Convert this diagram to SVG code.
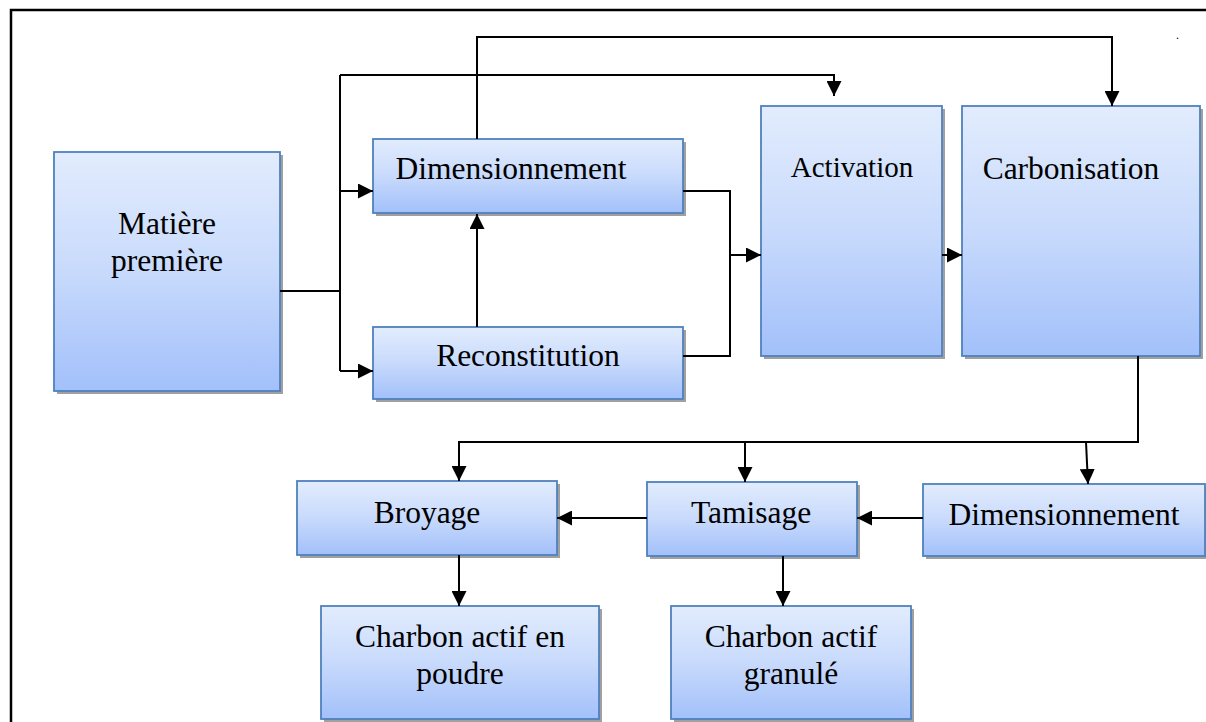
<svg xmlns="http://www.w3.org/2000/svg" width="1206" height="722" viewBox="0 0 1206 722">
<defs>
<linearGradient id="g" x1="0" y1="0" x2="0" y2="1">
<stop offset="0" stop-color="#e2ecfd"/>
<stop offset="0.5" stop-color="#c8dafc"/>
<stop offset="1" stop-color="#a2c0fa"/>
</linearGradient>
<marker id="ah" viewBox="0 0 15 15" refX="15" refY="7.5" markerWidth="15" markerHeight="15" markerUnits="userSpaceOnUse" orient="auto">
<path d="M0,0 L15,7.5 L0,15 z" fill="#000"/>
</marker>
</defs>
<style>
.box{fill:url(#g);stroke:#4f81bd;stroke-width:1.8}
.sh{fill:#a0a0a0}
.t{font-family:"Liberation Serif","Times New Roman",serif;font-size:31.5px;fill:#000;text-anchor:middle}
.c{fill:none;stroke:#000;stroke-width:2}
.a{marker-end:url(#ah)}
</style>
<rect width="1206" height="722" fill="#fff"/>
<path d="M11,722 V10 H1206" fill="none" stroke="#000" stroke-width="2.5"/>
<text x="1176" y="39" style="font-family:'Liberation Serif',serif;font-size:12px">.</text>

<g id="n-matiere">
<rect class="sh" x="57" y="155" width="226" height="239"/>
<rect class="box" x="54" y="152" width="226" height="239"/>
<text class="t" x="167" y="234">Matière</text>
<text class="t" x="167" y="271">première</text>
</g>
<g id="n-dim1">
<rect class="sh" x="376" y="142" width="310" height="74"/>
<rect class="box" x="373" y="139" width="310" height="74"/>
<text class="t" x="511" y="179">Dimensionnement</text>
</g>
<g id="n-recon">
<rect class="sh" x="376" y="330" width="310" height="72"/>
<rect class="box" x="373" y="327" width="310" height="72"/>
<text class="t" x="528" y="366">Reconstitution</text>
</g>
<g id="n-activation">
<rect class="sh" x="764" y="109" width="181" height="250"/>
<rect class="box" x="761" y="106" width="181" height="250"/>
<text class="t" x="852" y="177" style="font-size:29px">Activation</text>
</g>
<g id="n-carbonisation">
<rect class="sh" x="965" y="109" width="238" height="250"/>
<rect class="box" x="962" y="106" width="238" height="250"/>
<text class="t" x="1071" y="179">Carbonisation</text>
</g>
<g id="n-broyage">
<rect class="sh" x="300" y="484" width="260" height="74"/>
<rect class="box" x="297" y="481" width="260" height="74"/>
<text class="t" x="427" y="523">Broyage</text>
</g>
<g id="n-tamisage">
<rect class="sh" x="650" y="485" width="210" height="74"/>
<rect class="box" x="647" y="482" width="210" height="74"/>
<text class="t" x="751" y="523">Tamisage</text>
</g>
<g id="n-dim2">
<rect class="sh" x="926" y="487" width="282" height="72"/>
<rect class="box" x="923" y="484" width="282" height="72"/>
<text class="t" x="1064" y="525">Dimensionnement</text>
</g>
<g id="n-poudre">
<rect class="sh" x="324" y="609" width="278" height="113"/>
<rect class="box" x="321" y="606" width="278" height="113"/>
<text class="t" x="460" y="647">Charbon actif en</text>
<text class="t" x="460" y="684">poudre</text>
</g>
<g id="n-granule">
<rect class="sh" x="674" y="609" width="240" height="113"/>
<rect class="box" x="671" y="606" width="240" height="113"/>
<text class="t" x="791" y="647">Charbon actif</text>
<text class="t" x="791" y="684">granulé</text>
</g>

<g id="connectors">
<path class="c" d="M280,291 H340"/>
<path class="c" d="M340,75 V371"/>
<path class="c a" d="M340,191 H373"/>
<path class="c a" d="M340,371 H373"/>
<path class="c a" d="M340,75 H834 V96"/>
<path class="c a" d="M477,327 V214"/>
<path class="c a" d="M477,139 V37 H1112 V106"/>
<path class="c" d="M683,191 H730 V356 H683"/>
<path class="c a" d="M730,255 H761"/>
<path class="c a" d="M942,255 H962"/>
<path class="c a" d="M1138,356 V442 H459 V481"/>
<path class="c a" d="M745,442 V482"/>
<path class="c a" d="M1086,442 L1088,484"/>
<path class="c a" d="M647,518 H557"/>
<path class="c a" d="M923,518 H857"/>
<path class="c a" d="M459,555 V606"/>
<path class="c a" d="M783,556 V606"/>
</g>
</svg>
